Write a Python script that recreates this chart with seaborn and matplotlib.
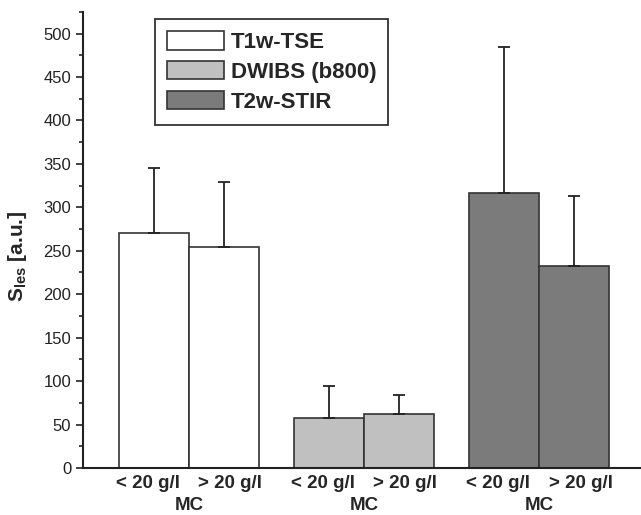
import numpy as np
import pandas as pd
import matplotlib
matplotlib.use("Agg")
import matplotlib.pyplot as plt
from matplotlib.patches import Patch
from matplotlib.ticker import MultipleLocator
import seaborn as sns

# vrijednosti ocitane sa slike
sequences = ["T1w-TSE", "DWIBS (b800)", "T2w-STIR"]
concentrations = ["< 20 g/l", "> 20 g/l"]
means = {"T1w-TSE": [270, 254], "DWIBS (b800)": [58, 62], "T2w-STIR": [316, 232]}
errors = {"T1w-TSE": [75, 75], "DWIBS (b800)": [36, 22], "T2w-STIR": [168, 81]}
colors = ["#ffffff", "#c0c0c0", "#7b7b7b"]

rows = []
for s in sequences:
    for i, c in enumerate(concentrations):
        rows.append({"sequence": s, "conc": c, "value": means[s][i], "err": errors[s][i]})
df = pd.DataFrame(rows)

sns.set_style("ticks")
plt.rcParams["font.family"] = ["Liberation Sans", "DejaVu Sans"]
plt.rcParams["mathtext.fontset"] = "custom"
plt.rcParams["mathtext.rm"] = "Liberation Sans"
plt.rcParams["mathtext.bf"] = "Liberation Sans:bold"

fig = plt.figure(figsize=(6.41, 5.15), dpi=100)
ax = fig.add_axes([0.1295, 0.0913, 0.8705, 0.8857])

sns.barplot(data=df, x="sequence", y="value", hue="conc", order=sequences,
            hue_order=concentrations, width=0.8, errorbar=None, legend=False, ax=ax)

# bojanje stupaca po sekvenci + error barovi
for p in ax.patches:
    cx = p.get_x() + p.get_width() / 2
    g = int(round(cx))
    h = 0 if cx < g else 1
    p.set_facecolor(colors[g])
    p.set_edgecolor("#333333")
    p.set_linewidth(1.2)
    err = errors[sequences[g]][h]
    ax.errorbar([cx], [p.get_height()], yerr=[[0], [err]], fmt="none",
                ecolor="#222222", elinewidth=1.3, capsize=4, capthick=1.3)

ax.set_xlim(-0.606, 2.58)
ax.set_ylim(0, 525)
ax.yaxis.set_major_locator(MultipleLocator(50))
ax.yaxis.set_minor_locator(MultipleLocator(25))
ax.tick_params(axis="y", which="major", length=5, width=1.2, labelsize=12, colors="#222222")
ax.tick_params(axis="y", which="minor", length=3, width=1.2)

centers = np.arange(len(sequences))
ax.set_xticks(centers)
ax.set_xticklabels(["MC"] * len(sequences), fontsize=13.5, fontweight="bold")
ax.set_xticks(np.concatenate([centers - 0.235, centers + 0.235]), minor=True)
ax.set_xticklabels(["< 20 g/l"] * 3 + ["> 20 g/l"] * 3, minor=True,
                   fontsize=13.5, fontweight="bold")
ax.tick_params(axis="x", which="both", length=0)
ax.tick_params(axis="x", which="minor", pad=5)
ax.tick_params(axis="x", which="major", pad=21)

ax.set_xlabel("")
ax.set_ylabel(r"$\mathbf{S_{les}}$ [a.u.]", fontsize=15, fontweight="bold")
ax.yaxis.set_label_coords(-0.097, 0.465)

sns.despine(ax=ax)
for sp in ["left", "bottom"]:
    ax.spines[sp].set_linewidth(1.5)
    ax.spines[sp].set_color("#222222")

handles = [Patch(facecolor=colors[i], edgecolor="#333333", linewidth=1.2, label=s)
           for i, s in enumerate(sequences)]
leg = ax.legend(handles=handles, loc="upper left", bbox_to_anchor=(0.129, 0.984),
                borderaxespad=0, fancybox=False, framealpha=1, handlelength=2.55,
                handleheight=0.9, prop={"size": 16, "weight": "bold"},
                labelspacing=0.35, borderpad=0.55, handletextpad=0.3)
leg.get_frame().set_edgecolor("#333333")
leg.get_frame().set_linewidth(1.3)

fig.savefig("out.png", dpi=100)
